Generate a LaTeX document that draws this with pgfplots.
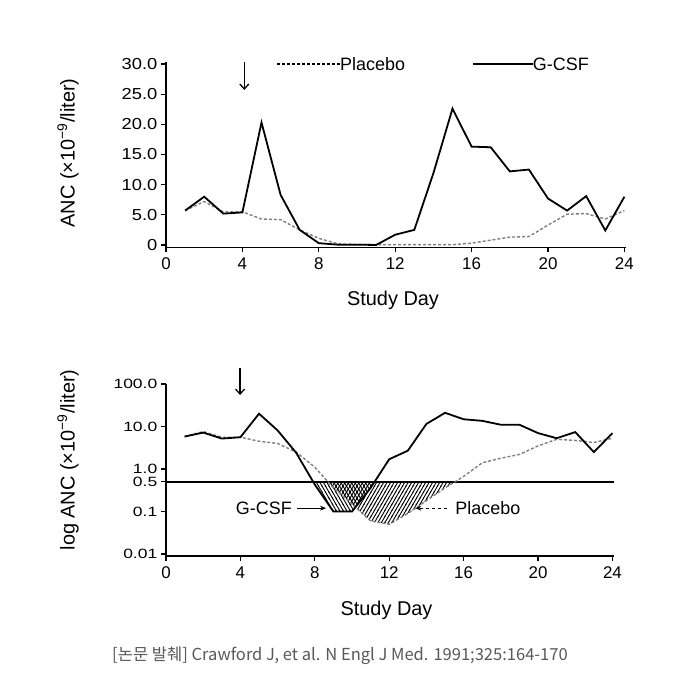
\documentclass[border=0pt]{standalone}
\usepackage{fontspec}
\setmainfont{Liberation Sans}
\newfontfamily\widesansA[FakeStretch=1.15]{Liberation Sans}
\newfontfamily\widesansB[FakeStretch=1.3]{Liberation Sans}
\newfontfamily\kr{Noto Sans CJK KR}
\usepackage{pgfplots}
\usepackage{pgfplotstable}
\pgfplotsset{compat=1.18}
\usetikzlibrary{patterns,arrows.meta}

\pgfdeclarepatternformonly{hatchNE}{\pgfqpoint{-1bp}{-1bp}}{\pgfqpoint{4.5bp}{7bp}}{\pgfqpoint{3.5bp}{6.06bp}}{%
  \pgfsetlinewidth{0.9bp}%
  \pgfpathmoveto{\pgfqpoint{-0.35bp}{-0.606bp}}%
  \pgfpathlineto{\pgfqpoint{3.85bp}{6.666bp}}%
  \pgfusepath{stroke}}
\pgfdeclarepatternformonly{hatchNW}{\pgfqpoint{-1bp}{-1bp}}{\pgfqpoint{4.5bp}{7bp}}{\pgfqpoint{3.5bp}{6.06bp}}{%
  \pgfsetlinewidth{0.9bp}%
  \pgfpathmoveto{\pgfqpoint{-0.35bp}{6.666bp}}%
  \pgfpathlineto{\pgfqpoint{3.85bp}{-0.606bp}}%
  \pgfusepath{stroke}}

\pgfplotstableread{
day gcsf placebo
1  5.7  5.7
2  8.0  7.2
3  5.2  5.5
4  5.4  5.5
5  20.3 4.3
6  8.3  4.2
7  2.5  2.5
8  0.3  1.1
9  0.05 0.2
10 0.05 0.1
11 0.0  0.05
12 1.7  0.05
13 2.5  0.05
14 11.9 0.05
15 22.6 0.05
16 16.3 0.3
17 16.2 0.8
18 12.2 1.3
19 12.5 1.4
20 7.7  3.3
21 5.7  5.1
22 8.1  5.2
23 2.4  4.3
24 8.0  5.7
}\toplin

\pgfplotstableread{
day gcsf placebo
1  5.8  5.8
2  7.2  7.6
3  5.2  5.6
4  5.6  5.6
5  20   4.5
6  8.1  4.0
7  2.4  2.5
8  0.43 1.1
9  0.1  0.36
10 0.1  0.15
11 0.36 0.06
12 1.7  0.05
13 2.7  0.09
14 11.5 0.18
15 21   0.36
16 14.8 0.67
17 13.6 1.4
18 11   1.8
19 11   2.2
20 7    3.5
21 5.3  5.0
22 7.4  4.7
23 2.5  4.2
24 7    5.3
}\botlog

\pgfplotsset{
  common/.style={
    scale only axis, axis lines=left,
    axis line style={-, line width=1.5bp},
    every outer x axis line/.append style={-},
    every outer y axis line/.append style={-},
    tick align=outside, major tick length=5bp,
    every tick/.style={black, line width=1.3bp},
    xmin=0, xmax=24.1,
    xtick={0,4,...,24}, xticklabels={0,4,8,12,16,20,24},
    xticklabel style={font=\fontsize{17}{19}\selectfont, yshift=-2bp},
    yticklabel style={inner sep=0bp, xshift=-3.5bp},
    clip=false, anchor=south west,
  }
}

\begin{document}
\begin{tikzpicture}[x=1bp,y=1bp]
\fill[white] (0,0) rectangle (680,680);

\begin{axis}[common, at={(166bp,432.6bp)}, width=460.3bp, height=185.2bp,
  ymin=-0.4, ymax=30.3, ytick={0,5,...,30},
  yticklabels={0,5.0,10.0,15.0,20.0,25.0,30.0},
  yticklabel style={font=\widesansA\fontsize{16}{18}\selectfont}]
\addplot[black!50, densely dashed, line width=1.4bp] table[x=day,y=placebo]{\toplin};
\addplot[black, line width=1.8bp] table[x=day,y=gcsf]{\toplin};
\draw[densely dashed, line width=1.3bp] (axis cs:5.81,30) -- (axis cs:9.11,30);
\node[anchor=west, inner sep=0pt, font=\fontsize{18}{20}\selectfont] at (axis cs:9.11,30) {Placebo};
\draw[line width=1.3bp] (axis cs:16.07,30) -- (axis cs:19.2,30);
\node[anchor=west, inner sep=0pt, font=\fontsize{18}{20}\selectfont] at (axis cs:19.2,30) {G-CSF};
\draw[-{Straight Barb[length=5bp,width=9bp]}, line width=1.3bp] (axis cs:4.1,30.33) -- (axis cs:4.1,25.7);
\end{axis}

\begin{axis}[common, at={(166bp,124bp)}, width=448.3bp, height=172bp,
  ymode=log, ymin=0.009, ymax=100,
  ytick={0.01,0.1,0.5,1,10,100},
  yticklabels={0.01,0.1,0.5,1.0,10.0,100.0},
  yticklabel style={font=\widesansB\fontsize{13.5}{15}\selectfont},
  minor y tick style={draw=none}]
% shaded areas below 0.5 (curve points plus crossings with the 0.5 line)
\addplot[draw=none, pattern=hatchNW, forget plot] coordinates
  {(7.91,0.5) (8,0.43) (9,0.1) (10,0.1) (11,0.36) (11.21,0.5)} -- cycle;
\addplot[draw=none, pattern=hatchNE, forget plot] coordinates
  {(8.705,0.5) (9,0.36) (10,0.15) (11,0.06) (12,0.05) (13,0.09) (14,0.18) (15,0.36) (15.53,0.5)} -- cycle;
\addplot[black, line width=1.4bp] coordinates {(0,0.5) (24.1,0.5)};
\addplot[black!50, densely dashed, line width=1.4bp] table[x=day,y=placebo]{\botlog};
\addplot[black, line width=1.8bp] table[x=day,y=gcsf]{\botlog};
\node[anchor=east, inner sep=0pt, font=\fontsize{18}{20}\selectfont] at (axis cs:6.77,0.12) {G-CSF};
\draw[-{Stealth[length=6bp,width=5bp]}, line width=0.9bp] (axis cs:7.05,0.12) -- (axis cs:8.6,0.12);
\node[anchor=west, inner sep=0pt, font=\fontsize{18}{20}\selectfont] at (axis cs:15.55,0.12) {Placebo};
\draw[-{Stealth[length=6bp,width=5bp]}, dashed, line width=0.9bp] (axis cs:15.1,0.12) -- (axis cs:13.4,0.12);
\draw[-{Straight Barb[length=5bp,width=9bp]}, line width=1.3bp] (axis cs:3.98,238) -- (axis cs:3.98,55);
\end{axis}

\node[rotate=90, font=\fontsize{20}{24}\selectfont] at (68,527) {ANC (×10\textsuperscript{−9}/liter)};
\node[rotate=90, font=\fontsize{20}{24}\selectfont] at (68,220) {log ANC (×10\textsuperscript{−9}/liter)};
\node[font=\fontsize{20}{24}\selectfont] at (393,380) {Study Day};
\node[font=\fontsize{20}{24}\selectfont] at (386.5,70) {Study Day};
\node[font=\kr\fontsize{16.6}{18}\selectfont, text=black!65] at (340,24) {[논문 발췌] Crawford J, et al. N Engl J Med. 1991;325:164-170};
\end{tikzpicture}
\end{document}
